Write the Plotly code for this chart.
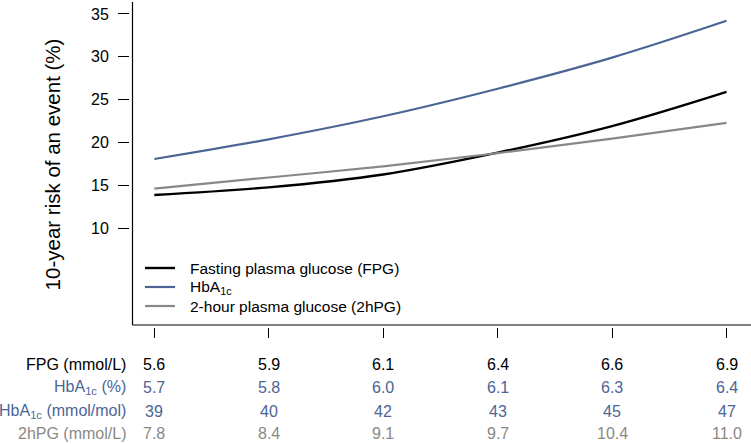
import plotly.graph_objects as go

# positions of the six reference points along the x axis (equal spacing)
positions = [0, 1, 2, 3, 4, 5]

# risk curves (10-year risk, %)
fpg_risk = [13.86, 14.75, 16.25, 18.8, 21.9, 25.9]
hba1c_risk = [18.06, 20.36, 23.05, 26.27, 29.9, 34.2]
hpg_risk = [14.6, 15.9, 17.2, 18.75, 20.45, 22.27]

# table rows under the axis
fpg_labels = ["5.6", "5.9", "6.1", "6.4", "6.6", "6.9"]
hba1c_pct_labels = ["5.7", "5.8", "6.0", "6.1", "6.3", "6.4"]
hba1c_mmol_labels = ["39", "40", "42", "43", "45", "47"]
hpg_labels = ["7.8", "8.4", "9.1", "9.7", "10.4", "11.0"]

row_names = ["FPG (mmol/L)", "HbA<sub>1c</sub> (%)", "HbA<sub>1c</sub> (mmol/mol)", "2hPG (mmol/L)"]
series_names = ["Fasting plasma glucose (FPG)", "HbA<sub>1c</sub>", "2-hour plasma glucose (2hPG)"]
y_ticks = [10, 15, 20, 25, 30, 35]

BLACK = "#000000"
BLUE = "#4b6595"
GRAY = "#8a8884"
FONT = "Arial, Liberation Sans, sans-serif"

W, H = 751, 444
ML, MR, MT, MB = 130, 0, 2, 117
PW, PH = W - ML - MR, H - MT - MB

series = [(fpg_risk, BLACK, 2.4), (hba1c_risk, BLUE, 2.2), (hpg_risk, GRAY, 2.2)]

fig = go.Figure()
for (vals, color, lw), name in zip(series, series_names):
    fig.add_trace(go.Scatter(x=positions, y=vals, mode="lines",
                             line=dict(color=color, width=lw, shape="spline"),
                             name=name, showlegend=False))

annotations = []
shapes = []

# legend (drawn as key lines + labels)
leg_px = [268, 287, 306]
for (vals, color, lw), name, py in zip(series, series_names, leg_px):
    yp = (H - MB - py) / PH
    shapes.append(dict(type="line", xref="paper", yref="paper",
                       x0=(145 - ML) / PW, x1=(175 - ML) / PW, y0=yp, y1=yp,
                       line=dict(color=color, width=lw)))
    annotations.append(dict(text=name, x=(188 - ML) / PW, xref="paper", y=yp, yref="paper",
                            xanchor="left", yanchor="middle", showarrow=False,
                            font=dict(size=15.5, color="#000000", family=FONT)))

# table under the axis
rows = [(fpg_labels, BLACK), (hba1c_pct_labels, BLUE), (hba1c_mmol_labels, BLUE), (hpg_labels, GRAY)]
row_px = [364, 388, 411, 433]
for (labels, color), name, py in zip(rows, row_names, row_px):
    yp = (H - MB - py) / PH
    annotations.append(dict(text=name, x=(128 - ML) / PW, xref="paper", y=yp, yref="paper",
                            xanchor="right", yanchor="middle", showarrow=False,
                            font=dict(size=16, color=color, family=FONT)))
    for p, lab in zip(positions, labels):
        annotations.append(dict(text=lab, x=p, xref="x", y=yp, yref="paper",
                                xanchor="center", yanchor="middle", showarrow=False,
                                font=dict(size=16, color=color, family=FONT)))

gap_x = 2.5 / PW
gap_y = 2.0 / PH
shapes += [
    dict(type="line", xref="paper", yref="paper", x0=gap_x, x1=1, y0=gap_y, y1=gap_y,
         line=dict(color="#000000", width=1.2)),
    dict(type="line", xref="paper", yref="paper", x0=gap_x, x1=gap_x, y0=gap_y, y1=1,
         line=dict(color="#000000", width=1.2)),
]

fig.update_layout(
    width=W, height=H,
    margin=dict(l=ML, r=MR, t=MT, b=MB, autoexpand=False),
    paper_bgcolor="white", plot_bgcolor="white",
    font=dict(family=FONT, size=16, color="#000000"),
    showlegend=False,
    xaxis=dict(range=[-0.2123, 5.214], tickvals=positions, showticklabels=False, ticks="outside",
               ticklen=10, tickwidth=1.2, tickcolor="#000000", showline=False, showgrid=False,
               zeroline=False, fixedrange=True, automargin=False),
    yaxis=dict(range=[-1.565, 36.40], tickvals=y_ticks, ticks="outside", ticklen=11, tickwidth=1.2,
               tickcolor="#000000", showline=False, showgrid=False, zeroline=False,
               ticklabelstandoff=6, tickfont=dict(size=16, family=FONT), automargin=False,
               title=dict(text="10-year risk of an event (%)", font=dict(size=20.5, family=FONT), standoff=24)),
    annotations=annotations,
    shapes=shapes,
)

fig.write_html("out.html", config={"displayModeBar": False},
               post_script="document.body.style.margin='0';document.body.style.padding='0';")
